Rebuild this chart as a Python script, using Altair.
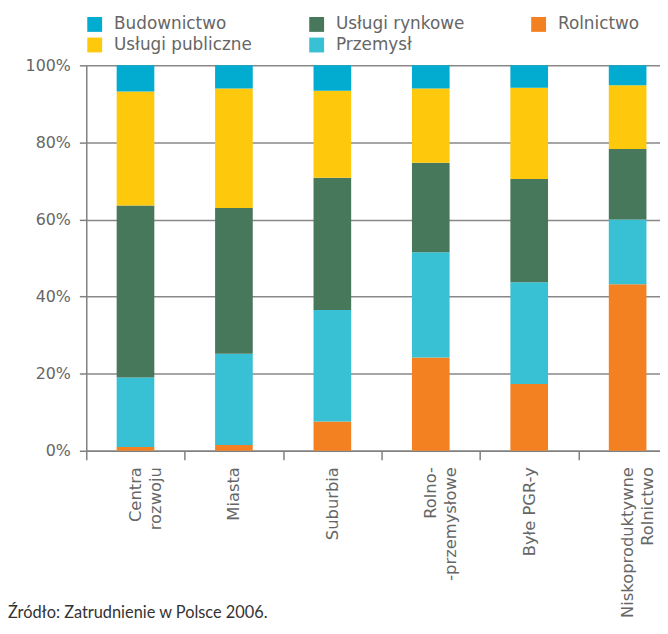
import altair as alt
import pandas as pd

categories = ["Centra\nrozwoju", "Miasta", "Suburbia", "Rolno-\n-przemysłowe", "Byłe PGR-y", "Niskoproduktywne\nRolnictwo"]
rolnictwo = [1.0, 1.5, 7.6, 24.2, 17.3, 43.2]
przemysl = [18.0, 23.7, 28.9, 27.3, 26.4, 16.8]
uslugi_rynkowe = [44.6, 37.8, 34.3, 23.2, 26.8, 18.3]
uslugi_publiczne = [29.6, 31.0, 22.6, 19.3, 23.7, 16.5]
budownictwo = [6.8, 6.0, 6.6, 6.0, 5.8, 5.2]

series_names = ["Rolnictwo", "Przemysł", "Usługi rynkowe", "Usługi publiczne", "Budownictwo"]
series_values = [rolnictwo, przemysl, uslugi_rynkowe, uslugi_publiczne, budownictwo]
legend_order = ["Budownictwo", "Usługi publiczne", "Usługi rynkowe", "Przemysł", "Rolnictwo"]
colors = {"Budownictwo": "#02abd0", "Usługi rynkowe": "#47785b", "Rolnictwo": "#f38121",
          "Usługi publiczne": "#fec90c", "Przemysł": "#38c1d4"}
y_ticks = [0, 20, 40, 60, 80, 100]
source = "Źródło: Zatrudnienie w Polsce 2006."

rows = []
for k, (name, vals) in enumerate(zip(series_names, series_values)):
    for cat, v in zip(categories, vals):
        rows.append({"cat": cat, "sector": name, "value": v, "ord": k})
df = pd.DataFrame(rows)

H = 389
bars = alt.Chart(df).mark_bar(size=38).encode(
    x=alt.X("cat:N", sort=categories, title=None,
            scale=alt.Scale(range=[0, 596], paddingInner=0, paddingOuter=0),
            axis=alt.Axis(labelAngle=270, labelAlign="right", labelBaseline="middle",
                          labelExpr="split(datum.label, '\\n')", labelLineHeight=20,
                          labelFont="DejaVu Sans", labelFontSize=16.5, labelColor="#666666",
                          labelPadding=7, tickBand="extent", tickSize=9, tickColor="#808080",
                          tickWidth=1.5, domainColor="#808080", domainWidth=1.5, grid=False)),
    y=alt.Y("value:Q", stack="zero", title=None,
            scale=alt.Scale(domain=[0, 100], nice=False),
            axis=alt.Axis(values=y_ticks, labelExpr="datum.value + '%'",
                          labelFont="DejaVu Sans", labelFontSize=16, labelColor="#666666",
                          labelPadding=9, tickSize=7, tickColor="#808080", tickWidth=1.5,
                          domainColor="#808080", domainWidth=1.5,
                          grid=True, gridColor="#888888", gridWidth=1.5)),
    color=alt.Color("sector:N", title=None,
                    scale=alt.Scale(domain=legend_order, range=[colors[s] for s in legend_order]),
                    legend=alt.Legend(orient="none", legendX=0, legendY=-50, columns=3,
                                      symbolType="square", symbolSize=225, symbolStrokeWidth=0,
                                      symbolOpacity=1, labelFont="DejaVu Sans", labelFontSize=17,
                                      labelColor="#666666", labelOffset=11, columnPadding=56,
                                      rowPadding=3, gridAlign="all", padding=0)),
    order=alt.Order("ord:Q", sort="ascending"),
)

src = alt.Chart(pd.DataFrame({"t": [source]})).mark_text(
    align="left", baseline="middle", font="Lato", fontSize=16.5, color="#333333"
).encode(text="t:N", x=alt.value(-79), y=alt.value(553))

chart = alt.layer(bars, src).properties(
    width=579, height=H,
    autosize=alt.AutoSizeParams(type="none"),
    padding={"left": 79, "top": 55, "right": 0, "bottom": 174},
).configure_view(stroke=None)

chart.save("out.html", embed_options={"renderer": "svg", "actions": False})
